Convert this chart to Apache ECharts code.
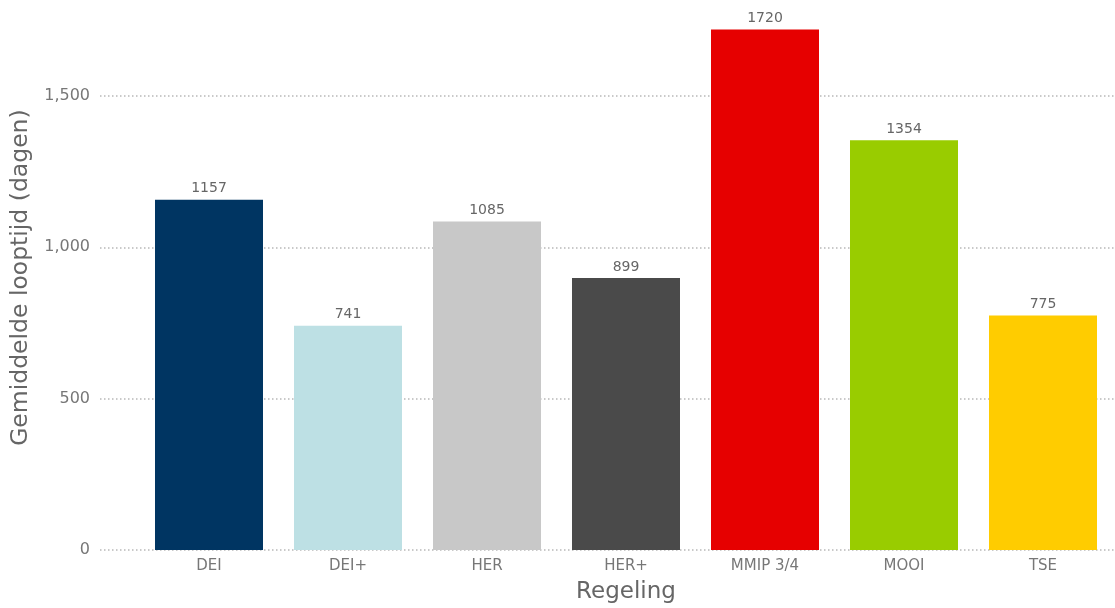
<!DOCTYPE html>
<html>
<head>
<meta charset="utf-8">
<title>Gemiddelde looptijd per regeling</title>
<script src="https://cdn.jsdelivr.net/npm/echarts@6/dist/echarts.min.js"></script>
<style>
  html, body { margin: 0; padding: 0; background: #fff; }
  #chart { width: 1115px; height: 608px; }
</style>
</head>
<body>
<div id="chart"></div>
<script>
// Regelingen en gemiddelde looptijd in dagen
const categories = ['DEI', 'DEI+', 'HER', 'HER+', 'MMIP 3/4', 'MOOI', 'TSE'];
const values = [1157, 741, 1085, 899, 1720, 1354, 775];
const barColors = ['#003562', '#bde0e4', '#c8c8c8', '#4a4a4a', '#e60000', '#99cc00', '#ffcc00'];
const yTicks = [0, 500, 1000, 1500];

const Y_MAX = 1800;
const plotTop = 5.2;
const plotBottom = 58;
const labelFont = 'DejaVu Sans, Verdana, sans-serif';

const chart = echarts.init(document.getElementById('chart'), null, { renderer: 'canvas' });

chart.setOption({
  animation: false,
  backgroundColor: '#ffffff',
  grid: [
    // grid 0: value axis labels, title and dotted gridlines across full width
    { left: 100, right: 0, top: plotTop, bottom: plotBottom, containLabel: false, outerBoundsMode: 'none' },
    // grid 1: the bars
    { left: 139.5, right: 2.5, top: plotTop, bottom: plotBottom, containLabel: false, outerBoundsMode: 'none' }
  ],
  xAxis: [
    { type: 'category', gridIndex: 0, data: categories, show: false },
    {
      type: 'category', gridIndex: 1, data: categories,
      axisLine: { show: false }, axisTick: { show: false },
      axisLabel: { color: '#777777', fontFamily: labelFont, fontSize: 15, margin: 9 },
      name: 'Regeling', nameLocation: 'middle', nameGap: 31,
      nameTextStyle: { color: '#666666', fontFamily: labelFont, fontSize: 23 }
    }
  ],
  yAxis: [
    {
      type: 'value', gridIndex: 0, min: 0, max: Y_MAX, interval: 500,
      axisLine: { show: false }, axisTick: { show: false },
      axisLabel: {
        color: '#777777', fontFamily: labelFont, fontSize: 16, margin: 10,
        formatter: function (v) {
          return yTicks.indexOf(v) >= 0 ? v.toLocaleString('en-US') : '';
        }
      },
      splitLine: {
        show: true, showMaxLine: false,
        lineStyle: { color: '#b8b8b8', type: [1.5, 2.5], width: 1.5 }
      },
      name: 'Gemiddelde looptijd (dagen)', nameLocation: 'middle', nameGap: 65,
      nameTextStyle: { color: '#666666', fontFamily: labelFont, fontSize: 23.5 }
    },
    {
      type: 'value', gridIndex: 1, min: 0, max: Y_MAX, interval: 500, show: false,
      splitLine: { show: false }
    }
  ],
  series: [
    {
      type: 'bar',
      xAxisIndex: 1, yAxisIndex: 1,
      barCategoryGap: '22.3%',
      data: values.map(function (v, i) {
        return { value: v, itemStyle: { color: barColors[i] } };
      }),
      label: {
        show: true, position: 'top', distance: 4,
        color: '#666666', fontFamily: labelFont, fontSize: 14
      }
    }
  ]
});
</script>
</body>
</html>
